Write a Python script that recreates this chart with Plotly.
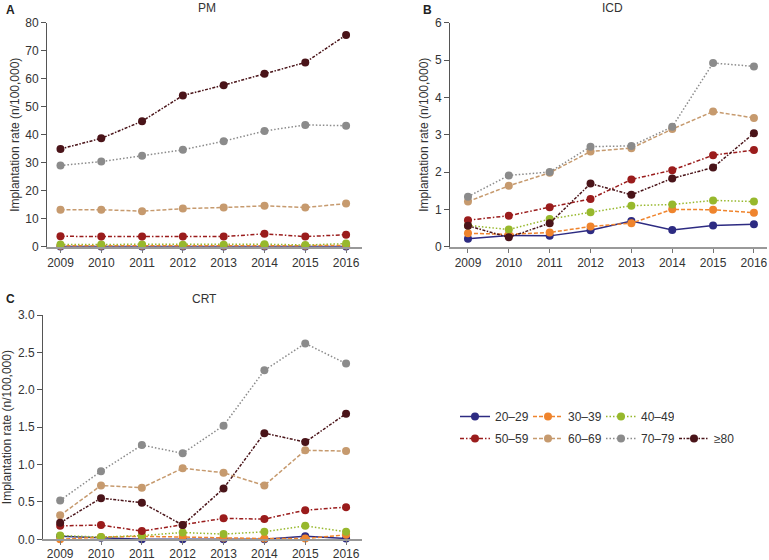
import plotly.graph_objects as go

years = [2009, 2010, 2011, 2012, 2013, 2014, 2015, 2016]
groups = ["20–29", "30–39", "40–49", "50–59", "60–69", "70–79", "≥80"]

pm_20_29 = [0.1, 0.1, 0.1, 0.1, 0.1, 0.1, 0.1, 0.1]
pm_30_39 = [0.3, 0.3, 0.3, 0.3, 0.3, 0.3, 0.3, 0.4]
pm_40_49 = [0.8, 0.8, 0.8, 0.7, 0.7, 0.9, 0.6, 1.1]
pm_50_59 = [3.7, 3.6, 3.6, 3.6, 3.6, 4.6, 3.6, 4.3]
pm_60_69 = [13.2, 13.2, 12.7, 13.6, 14.0, 14.6, 14.0, 15.4]
pm_70_79 = [29.0, 30.4, 32.5, 34.6, 37.7, 41.3, 43.5, 43.2]
pm_80 = [34.9, 38.7, 44.8, 54.0, 57.7, 61.8, 65.8, 75.6]

icd_20_29 = [0.21, 0.30, 0.29, 0.44, 0.69, 0.45, 0.57, 0.60]
icd_30_39 = [0.36, 0.33, 0.38, 0.54, 0.63, 1.00, 0.99, 0.91]
icd_40_49 = [0.57, 0.46, 0.74, 0.92, 1.10, 1.13, 1.24, 1.21]
icd_50_59 = [0.71, 0.83, 1.06, 1.28, 1.80, 2.05, 2.45, 2.59]
icd_60_69 = [1.21, 1.63, 1.98, 2.55, 2.64, 3.15, 3.62, 3.45]
icd_70_79 = [1.34, 1.91, 2.00, 2.68, 2.70, 3.21, 4.92, 4.83]
icd_80 = [0.56, 0.25, 0.63, 1.69, 1.39, 1.83, 2.12, 3.04]

crt_20_29 = [0.04, 0.02, 0.00, 0.00, 0.00, 0.00, 0.04, 0.01]
crt_30_39 = [0.00, 0.03, 0.04, 0.03, 0.02, 0.01, 0.01, 0.06]
crt_40_49 = [0.05, 0.03, 0.05, 0.09, 0.07, 0.10, 0.18, 0.10]
crt_50_59 = [0.18, 0.19, 0.11, 0.19, 0.28, 0.27, 0.39, 0.43]
crt_60_69 = [0.32, 0.72, 0.69, 0.95, 0.89, 0.72, 1.19, 1.18]
crt_70_79 = [0.52, 0.91, 1.26, 1.15, 1.52, 2.26, 2.62, 2.35]
crt_80 = [0.22, 0.55, 0.49, 0.19, 0.68, 1.42, 1.30, 1.68]

pm = [pm_20_29, pm_30_39, pm_40_49, pm_50_59, pm_60_69, pm_70_79, pm_80]
icd = [icd_20_29, icd_30_39, icd_40_49, icd_50_59, icd_60_69, icd_70_79, icd_80]
crt = [crt_20_29, crt_30_39, crt_40_49, crt_50_59, crt_60_69, crt_70_79, crt_80]

colors = ["#2d2b82", "#ef842d", "#97b82c", "#9a1c1c", "#c69a6e", "#8b8b8b", "#4a1419"]
dashes = ["solid", "4px,2px", "1.5px,2px", "4px,2px,1.5px,2px", "4px,2px", "1.5px,2px", "3px,1.5px,1.5px,1.5px"]

W, H = 769, 560
FONT = "Liberation Sans, Arial, sans-serif"
TXT = "#333333"

def dx(a, b):
    return [a / W, b / W]

def dy(top, bottom):
    return [1 - bottom / H, 1 - top / H]

fig = go.Figure()

panels = [
    ("x", "y", pm, True),
    ("x2", "y2", icd, False),
    ("x3", "y3", crt, False),
]
for xa, ya, data, show in panels:
    for i, (g, vals) in enumerate(zip(groups, data)):
        fig.add_trace(go.Scatter(
            x=years, y=vals, name=g, xaxis=xa, yaxis=ya,
            mode="lines+markers",
            line=dict(color=colors[i], width=1.5, dash=dashes[i]),
            marker=dict(color=colors[i], size=8),
            cliponaxis=False,
            showlegend=show,
            legend="legend" if i < 3 else "legend2",
        ))

def xaxis(domain, rng, anchor, standoff=0):
    return dict(domain=domain, range=rng, anchor=anchor, tickmode="array", tickvals=years,
                ticktext=[str(y) for y in years], showgrid=False, zeroline=False,
                showline=True, linecolor="#999999", linewidth=2, ticks="outside",
                ticklen=4, tickcolor="#777777", automargin=False, ticklabelstandoff=standoff,
                tickfont=dict(family=FONT, size=12, color=TXT))

def yaxis(domain, rng, anchor, dtick, fmt):
    return dict(domain=domain, range=rng, anchor=anchor, dtick=dtick, tickformat=fmt,
                showgrid=False, zeroline=False, showline=True, linecolor="#555555",
                linewidth=1, ticks="outside", ticklen=5, tickcolor="#555555", automargin=False,
                tickfont=dict(family=FONT, size=12, color=TXT),
                title=dict(text="Implantation rate (n/100,000)", standoff=3,
                           font=dict(family=FONT, size=12, color=TXT)))

fig.update_layout(
    width=W, height=H, margin=dict(l=0, r=0, t=0, b=0, autoexpand=False),
    paper_bgcolor="white", plot_bgcolor="white",
    font=dict(family=FONT, size=12, color=TXT),
    xaxis=xaxis(dx(47, 362), [2008.67, 2016.39], "y"),
    yaxis=yaxis(dy(22.7, 246.7), [0, 80], "x", 10, "d"),
    xaxis2=xaxis(dx(450, 767), [2008.56, 2016.32], "y2"),
    yaxis2=yaxis(dy(22.7, 246.7), [0, 6], "x2", 1, "d"),
    xaxis3=xaxis(dx(43, 362), [2008.58, 2016.39], "y3", -2),
    yaxis3=yaxis(dy(315, 539.3), [0, 3], "x3", 0.5, ".1f"),
    legend=dict(orientation="h", x=455 / W, y=1 - 402 / H, xanchor="left", yanchor="top",
                entrywidth=28, font=dict(family=FONT, size=12, color=TXT), bgcolor="rgba(0,0,0,0)"),
    legend2=dict(orientation="h", x=455 / W, y=1 - 424 / H, xanchor="left", yanchor="top",
                 entrywidth=28, font=dict(family=FONT, size=12, color=TXT), bgcolor="rgba(0,0,0,0)"),
    showlegend=True,
)

annotations = [
    dict(text="<b>A</b>", x=4 / W, y=1 - 10 / H),
    dict(text="<b>B</b>", x=421 / W, y=1 - 10 / H),
    dict(text="<b>C</b>", x=4 / W, y=1 - 299 / H),
]
for a in annotations:
    fig.add_annotation(xref="paper", yref="paper", xanchor="left", yanchor="middle",
                       showarrow=False, font=dict(family=FONT, size=12, color="#222222"), **a)

titles = [("PM", 207, 8), ("ICD", 612, 8), ("CRT", 204, 299)]
for t, x, y in titles:
    fig.add_annotation(xref="paper", yref="paper", x=x / W, y=1 - y / H, text=t,
                       xanchor="center", yanchor="middle", showarrow=False,
                       font=dict(family=FONT, size=12, color=TXT))

fig.write_html("out.html", post_script="document.body.style.margin='0';",
               config={"displayModeBar": False})
